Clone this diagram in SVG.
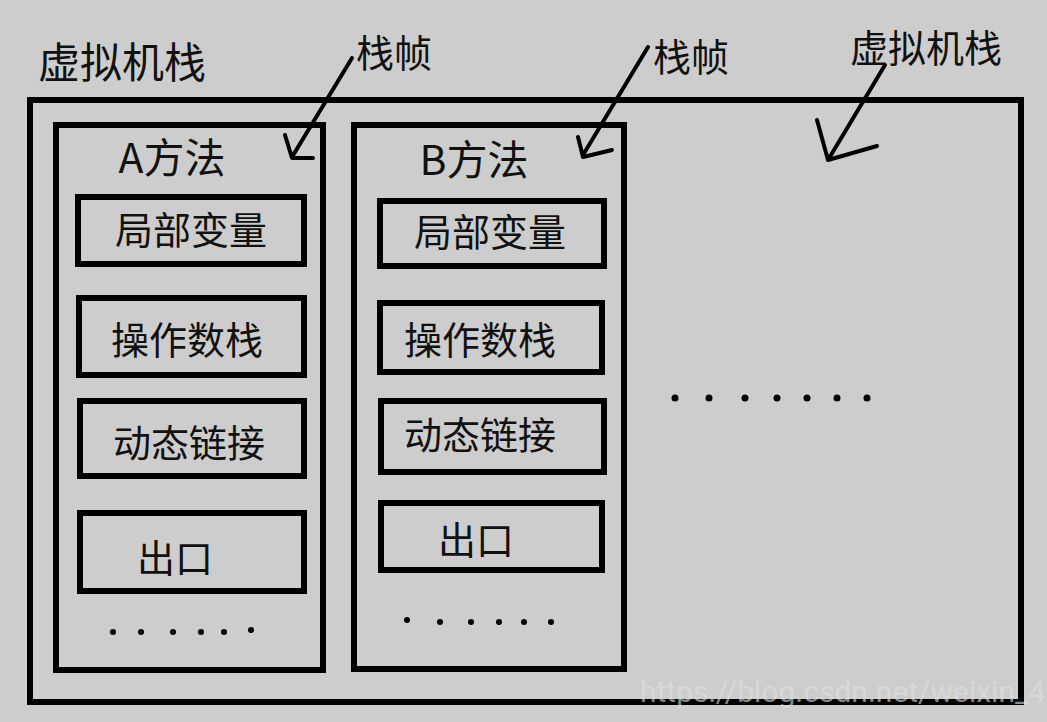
<svg xmlns="http://www.w3.org/2000/svg" width="1047" height="722" viewBox="0 0 1047 722">
<style>
.box{fill:none;stroke:#000;stroke-width:6}
.ibox{fill:none;stroke:#000;stroke-width:6}
.t{font-family:"Noto Sans CJK SC","Microsoft YaHei",sans-serif;fill:#111;text-anchor:middle}
.lbl{font-family:"Noto Sans CJK SC",sans-serif;fill:#111}
.arrow{fill:none;stroke:#000;stroke-width:4;stroke-linecap:round;stroke-linejoin:round}
.dot{fill:#000}
</style>
<rect width="1047" height="722" fill="#cdcdcd"/>
<g id="vm-stack">
<rect class="box" x="30" y="100" width="991" height="602"/>
<text class="lbl" x="38" y="78" font-size="42">虚拟机栈</text>
<text class="lbl" x="850" y="62" font-size="38">虚拟机栈</text>
<g id="dots-right">
<circle class="dot" cx="675" cy="398" r="3.5"/><circle class="dot" cx="709" cy="398" r="3.5"/><circle class="dot" cx="745" cy="398" r="3.5"/><circle class="dot" cx="777" cy="398" r="3.5"/><circle class="dot" cx="807" cy="398" r="3.5"/><circle class="dot" cx="837" cy="398" r="3.5"/><circle class="dot" cx="867" cy="398" r="3.5"/>
</g>
</g>
<g id="frame-a">
<rect class="box" x="56" y="125" width="267" height="545"/>
<text class="t" x="172" y="173" font-size="41">A方法</text>
<text class="lbl" x="356" y="67" font-size="38">栈帧</text>
<g id="a-local"><rect class="ibox" x="78" y="197" width="226" height="67"/><text class="t" x="191" y="244" font-size="38">局部变量</text></g>
<g id="a-operand"><rect class="ibox" x="79" y="298" width="225" height="77"/><text class="t" x="187" y="354" font-size="38">操作数栈</text></g>
<g id="a-link"><rect class="ibox" x="80" y="401" width="224" height="75"/><text class="t" x="189" y="457" font-size="38">动态链接</text></g>
<g id="a-exit"><rect class="ibox" x="80" y="513" width="224" height="78"/><text class="t" x="175" y="572" font-size="38">出口</text></g>
<g id="a-dots">
<circle class="dot" cx="113" cy="632" r="3"/><circle class="dot" cx="141" cy="632" r="3"/><circle class="dot" cx="173" cy="632" r="3"/><circle class="dot" cx="201" cy="632" r="3"/><circle class="dot" cx="224" cy="632" r="3"/><circle class="dot" cx="251" cy="630" r="3"/>
</g>
</g>
<g id="frame-b">
<rect class="box" x="354" y="125" width="270" height="544"/>
<text class="t" x="474" y="175" font-size="41">B方法</text>
<text class="lbl" x="653" y="71" font-size="38">栈帧</text>
<g id="b-local"><rect class="ibox" x="380" y="201" width="224" height="65"/><text class="t" x="490" y="246" font-size="38">局部变量</text></g>
<g id="b-operand"><rect class="ibox" x="380" y="303" width="222" height="69"/><text class="t" x="480" y="354" font-size="38">操作数栈</text></g>
<g id="b-link"><rect class="ibox" x="381" y="401" width="223" height="71"/><text class="t" x="480" y="449" font-size="38">动态链接</text></g>
<g id="b-exit"><rect class="ibox" x="381" y="503" width="221" height="67"/><text class="t" x="476" y="554" font-size="38">出口</text></g>
<g id="b-dots">
<circle class="dot" cx="407" cy="620" r="3"/><circle class="dot" cx="440" cy="622" r="3"/><circle class="dot" cx="471" cy="622" r="3"/><circle class="dot" cx="499" cy="622" r="3"/><circle class="dot" cx="524" cy="622" r="3"/><circle class="dot" cx="551" cy="622" r="3"/>
</g>
</g>
<g id="connectors">
<path class="arrow" d="M352 58 L292 157 M285 135 L292 158 L313 158"/>
<path class="arrow" d="M648 47 L583 155 M578 137 L583 157 L612 150"/>
<path class="arrow" stroke-width="5" d="M885 65 L828 160 M817 120 L828 160 L877 146"/>
</g>
<text x="640" y="702" font-family="Roboto,sans-serif" font-size="30" fill="#e0e0e0" opacity="0.6">https://blog.csdn.net/weixin_4</text>
</svg>
